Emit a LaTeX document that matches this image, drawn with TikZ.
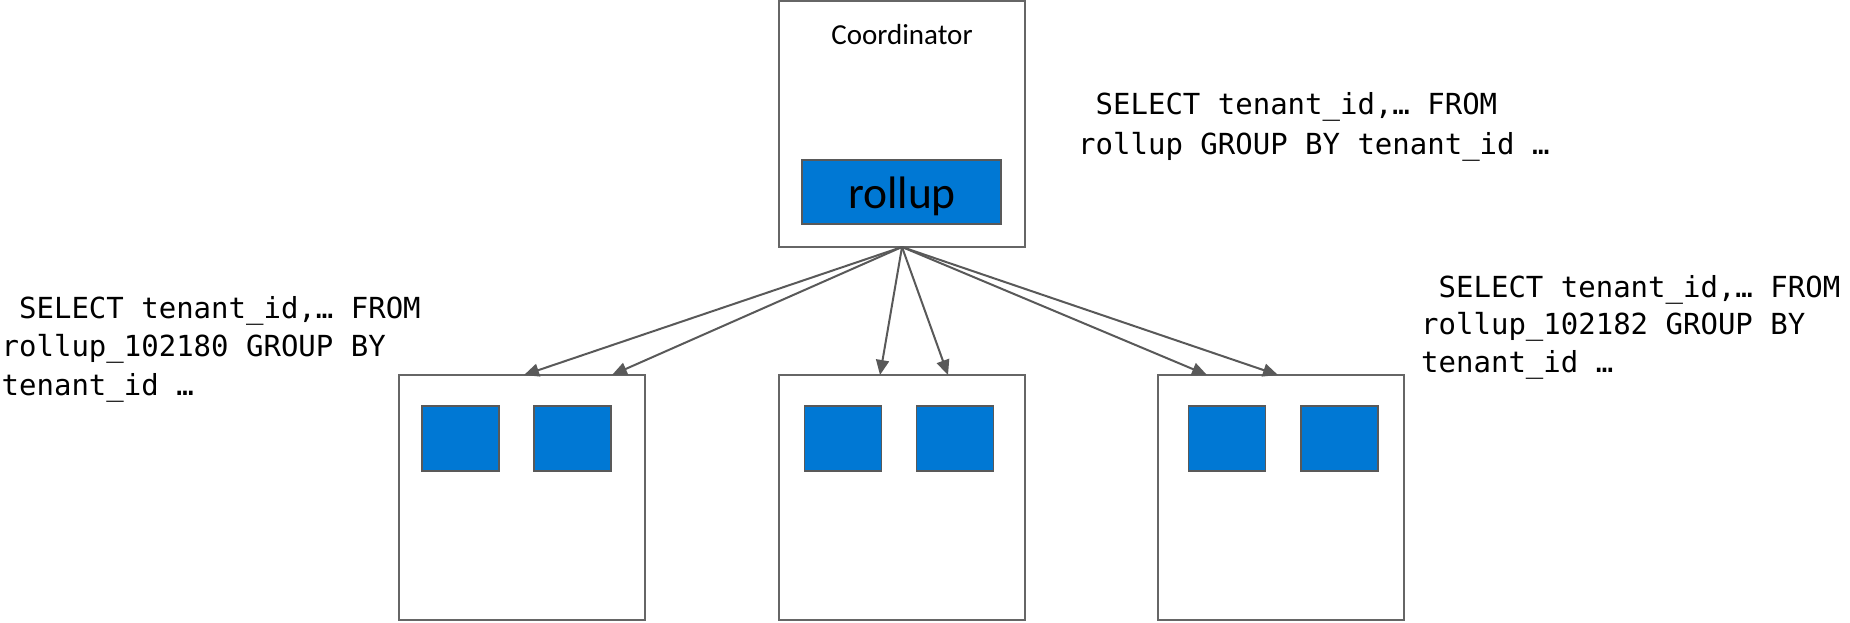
\documentclass[tikz,border=0pt]{standalone}
\usepackage{fontspec}
\setmainfont{Carlito}
\newfontfamily\codefont{DejaVu Sans Mono}
\usetikzlibrary{arrows.meta}

\definecolor{edgegray}{HTML}{666666}
\definecolor{arrowgray}{HTML}{595959}
\definecolor{shardblue}{HTML}{0078D4}

\tikzset{
  server/.style={draw=edgegray, line width=2pt, fill=white,
    minimum width=246pt, minimum height=245pt, inner sep=0pt, outer sep=0pt},
  shard/.style={draw=arrowgray, line width=1.6pt, fill=shardblue,
    minimum width=77pt, minimum height=65pt, inner sep=0pt, outer sep=0pt},
  fanout/.style={draw=arrowgray, line width=2pt,
    -{Triangle[length=15pt,width=13pt]}},
  sqltext/.style={inner sep=0pt, anchor=base west,
    font=\codefont\fontsize{29}{#1}\selectfont},
}

\begin{document}
\begin{tikzpicture}[x=1pt, y=-1pt]
  \useasboundingbox (0,0) rectangle (1850,623);

  % coordinator node with the rollup table
  \node[server, minimum height=246pt] (coord) at (902,124) {};
  \node[anchor=base, inner sep=0pt] (coordlbl) at (902,45)
    {\fontsize{29}{30}\selectfont Coordinator};
  \node[shard, minimum width=199pt, minimum height=64pt] (rollup) at (901.5,192) {};
  \node[anchor=base, inner sep=0pt] (rolluplbl) at (902,208)
    {\fontsize{45.5}{47}\selectfont rollup};

  % worker nodes, each holding two shards
  \node[server] (w1) at (522,497.5) {};
  \node[server] (w2) at (902,497.5) {};
  \node[server] (w3) at (1281,497.5) {};

  \node[shard] (s1a) at (460.5,438.5) {};
  \node[shard] (s1b) at (572.5,438.5) {};
  \node[shard] (s2a) at (843,438.5) {};
  \node[shard] (s2b) at (955,438.5) {};
  \node[shard] (s3a) at (1227,438.5) {};
  \node[shard] (s3b) at (1339.5,438.5) {};

  % fan-out of the query to the shards
  \draw[fanout] (coord.south) -- ([xshift=125pt]w1.north west);
  \draw[fanout] (coord.south) -- ([xshift=213pt]w1.north west);
  \draw[fanout] (coord.south) -- ([xshift=101pt]w2.north west);
  \draw[fanout] (coord.south) -- ([xshift=169pt]w2.north west);
  \draw[fanout] (coord.south) -- ([xshift=49pt]w3.north west);
  \draw[fanout] (coord.south) -- ([xshift=120pt]w3.north west);

  % queries
  \node[sqltext=40] (qcoord) at (1078,115)
    {\begin{tabular}[t]{@{}l@{}}\ SELECT tenant\_id,… FROM\\rollup GROUP BY tenant\_id …\end{tabular}};
  \node[sqltext=38.5] (qleft) at (1.5,318)
    {\begin{tabular}[t]{@{}l@{}}\ SELECT tenant\_id,… FROM\\rollup\_102180 GROUP BY\\tenant\_id …\end{tabular}};
  \node[sqltext=37.5] (qright) at (1421,297)
    {\begin{tabular}[t]{@{}l@{}}\ SELECT tenant\_id,… FROM\\rollup\_102182 GROUP BY\\tenant\_id …\end{tabular}};
\end{tikzpicture}
\end{document}
